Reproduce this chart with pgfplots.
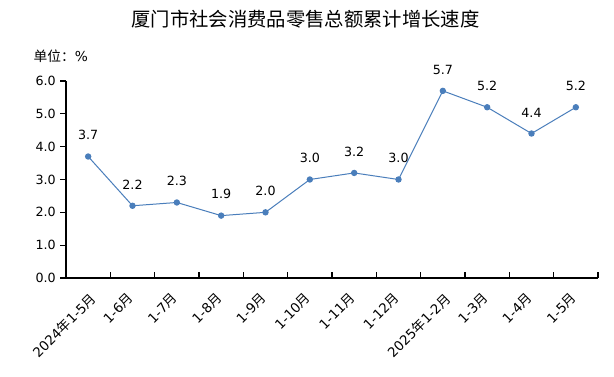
\documentclass[border=0pt]{standalone}
\usepackage{pgfplots}
\pgfplotsset{compat=1.18}
\usepackage{fontspec}
\setmainfont{DejaVu Sans}
\newfontfamily\cjk{Noto Sans CJK SC}
\newcommand{\yue}{{\cjk 月}}
\newcommand{\nian}{{\cjk 年}}
\newcommand{\longlab}[1]{\raisebox{-3.7pt}[\height][\depth]{#1}\kern-3.7pt}
\definecolor{ser}{HTML}{4A7EBB}
\begin{document}
\begin{tikzpicture}
\path[use as bounding box, fill=white] (0,0) rectangle (460.5pt,-282.75pt);
\node[font=\cjk\fontsize{14.5pt}{16pt}\selectfont] at (229pt,-14.25pt) {厦门市社会消费品零售总额累计增长速度};
\node[anchor=west, inner sep=0pt, font=\fontsize{10.3pt}{12pt}\selectfont] at (25pt,-42pt) {{\cjk 单位：}\%};
\begin{axis}[
  at={(49.5pt,-208.5pt)}, anchor=south west,
  scale only axis, width=399pt, height=147.75pt,
  xmin=-0.5, xmax=11.5, ymin=0, ymax=6,
  axis lines*=left,
  x axis line style={line width=1pt, black},
  y axis line style={line width=1.5pt, black},
  xtick={-0.5,0.5,...,11.5},
  x tick label as interval,
  xticklabels={\longlab{2024\nian1-5\yue},1-6\yue,1-7\yue,1-8\yue,1-9\yue,1-10\yue,1-11\yue,1-12\yue,\longlab{2025\nian1-2\yue},1-3\yue,1-4\yue,1-5\yue},
  ytick={0,1,...,6},
  xtick align=inside, ytick align=outside,
  major tick length=4.5pt,
  tick style={black, line width=0.8pt},
  yticklabel style={/pgf/number format/fixed, /pgf/number format/fixed zerofill, /pgf/number format/precision=1, /pgf/number format/assume math mode=true},
  yticklabel style={font=\fontsize{9.5pt}{11pt}\selectfont, inner sep=0pt, xshift=-3pt},
  xticklabel style={font=\fontsize{10pt}{12pt}\selectfont, inner sep=0pt, xshift=-1.2pt, yshift=-13.5pt, rotate=45, anchor=east},
  clip=false,
]
\addplot[color=ser, line width=0.75pt, mark=*, mark size=2pt, mark options={fill=ser, draw=ser},
  nodes near coords={\pgfmathprintnumber[fixed,fixed zerofill,precision=1,assume math mode=true]{\pgfplotspointmeta}},
  every node near coord/.append style={font=\fontsize{9.5pt}{11pt}\selectfont, black, inner sep=0pt, anchor=south, yshift=12pt}]
coordinates {(0,3.7) (1,2.2) (2,2.3) (3,1.9) (4,2.0) (5,3.0) (6,3.2) (7,3.0) (8,5.7) (9,5.2) (10,4.4) (11,5.2)};
\end{axis}
\end{tikzpicture}
\end{document}
